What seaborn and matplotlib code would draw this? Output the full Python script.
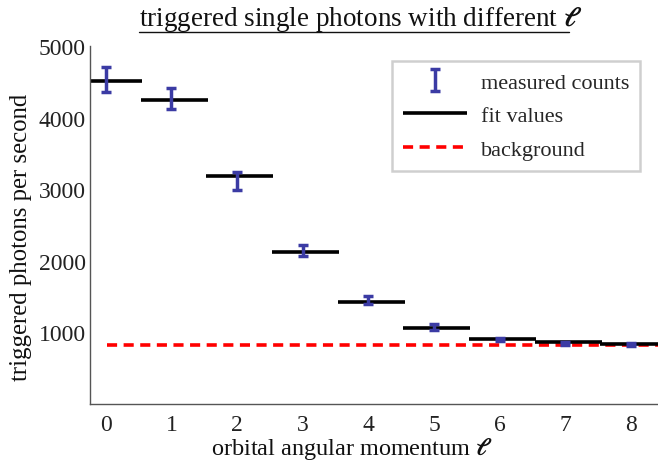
import matplotlib
matplotlib.use("Agg")
import matplotlib.pyplot as plt
import seaborn as sns
import numpy as np
import pandas as pd
from matplotlib.lines import Line2D

# ---- data ----
ell = [0, 1, 2, 3, 4, 5, 6, 7, 8]
measured = [4530, 4265, 3115, 2140, 1450, 1080, 900, 843, 829]
measured_err = [170, 150, 120, 75, 55, 40, 25, 20, 20]
fit_values = [4515, 4245, 3185, 2120, 1420, 1056, 906, 860, 843]
background = 830
xticks = [0, 1, 2, 3, 4, 5, 6, 7, 8]
yticks = [1000, 2000, 3000, 4000, 5000]

sns.set_style("white")
plt.rcParams['font.family'] = ['Liberation Serif', 'DejaVu Serif']
plt.rcParams['mathtext.fontset'] = 'stix'

fig = plt.figure(figsize=(6.58, 4.64), dpi=100)
ax = fig.add_axes([90/658, 1-405/464, 1-90/658, (405-47)/464])

df = pd.DataFrame({"ell": ell, "measured": measured, "err": measured_err, "fit": fit_values})

blue = "#3b3ba4"
# fit values
for i, (x, f) in enumerate(zip(df["ell"], df["fit"])):
    ax.hlines(f, x - 0.47, x + 0.55, color="black", lw=2.6, zorder=2,
              label="fit values" if i == 0 else None)

# background
bg_df = pd.DataFrame({"x": [ell[0] + 0.02, ell[-1] + 0.6], "y": [background, background]})
sns.lineplot(data=bg_df, x="x", y="y", ax=ax, color="red", lw=2.6,
             linestyle=(0, (2.8, 1.8)), label="background", zorder=1)

# measured counts
eb = ax.errorbar(df["ell"], df["measured"], yerr=df["err"], fmt="none",
                 ecolor=blue, elinewidth=2.5, capsize=3.5, capthick=2.5,
                 label="measured counts", zorder=3)

ax.set_xlim(-0.24, 8.41)
ax.set_ylim(0, 5000)
ax.set_xticks(xticks)
ax.set_yticks(yticks)
ax.tick_params(axis="both", direction="in", length=3, width=0.8, color="#555555",
               labelsize=17, colors="#222222")
ax.tick_params(axis="x", pad=7)
ax.tick_params(axis="y", pad=3)
for s in ["top", "right"]:
    ax.spines[s].set_visible(False)
for s in ["left", "bottom"]:
    ax.spines[s].set_color("#555555")
    ax.spines[s].set_linewidth(1.0)

ax.set_xlabel(r"orbital angular momentum $\mathbf{\ell}$", fontsize=17.5, color="#111111")
ax.set_ylabel("triggered photons per second", fontsize=17.8, color="#111111")
ax.xaxis.set_label_coords((352 - 90) / 568, -(436 - 405) / 358)
ax.xaxis.label.set_va("top")
ax.yaxis.set_label_coords(-(90 - 32) / 568, (405 - 237) / 358)

handles, labels = ax.get_legend_handles_labels()
order = ["measured counts", "fit values", "background"]
hmap = dict(zip(labels, handles))
leg = ax.legend([hmap[o] for o in order], order, loc="upper right",
                fontsize=16, frameon=True, fancybox=False, edgecolor="#c4c4c4",
                handlelength=2.9, handletextpad=0.6, borderpad=0.5, labelspacing=0.58,
                borderaxespad=0)
leg.set_bbox_to_anchor((640/658, 1-62/464), transform=fig.transFigure)
leg.get_frame().set_linewidth(1.8)

title = fig.text(361/658, 1-20/464, r"triggered single photons with different $\mathbf{\ell}$",
                 ha="center", va="center", fontsize=19.5, color="#111111")
fig.canvas.draw()
bb = title.get_window_extent().transformed(fig.transFigure.inverted())
fig.add_artist(Line2D([bb.x0, bb.x1 - 0.02], [1-33/464, 1-33/464],
                      transform=fig.transFigure, color="#111111", lw=1.0))

fig.savefig("out.png", dpi=100)
